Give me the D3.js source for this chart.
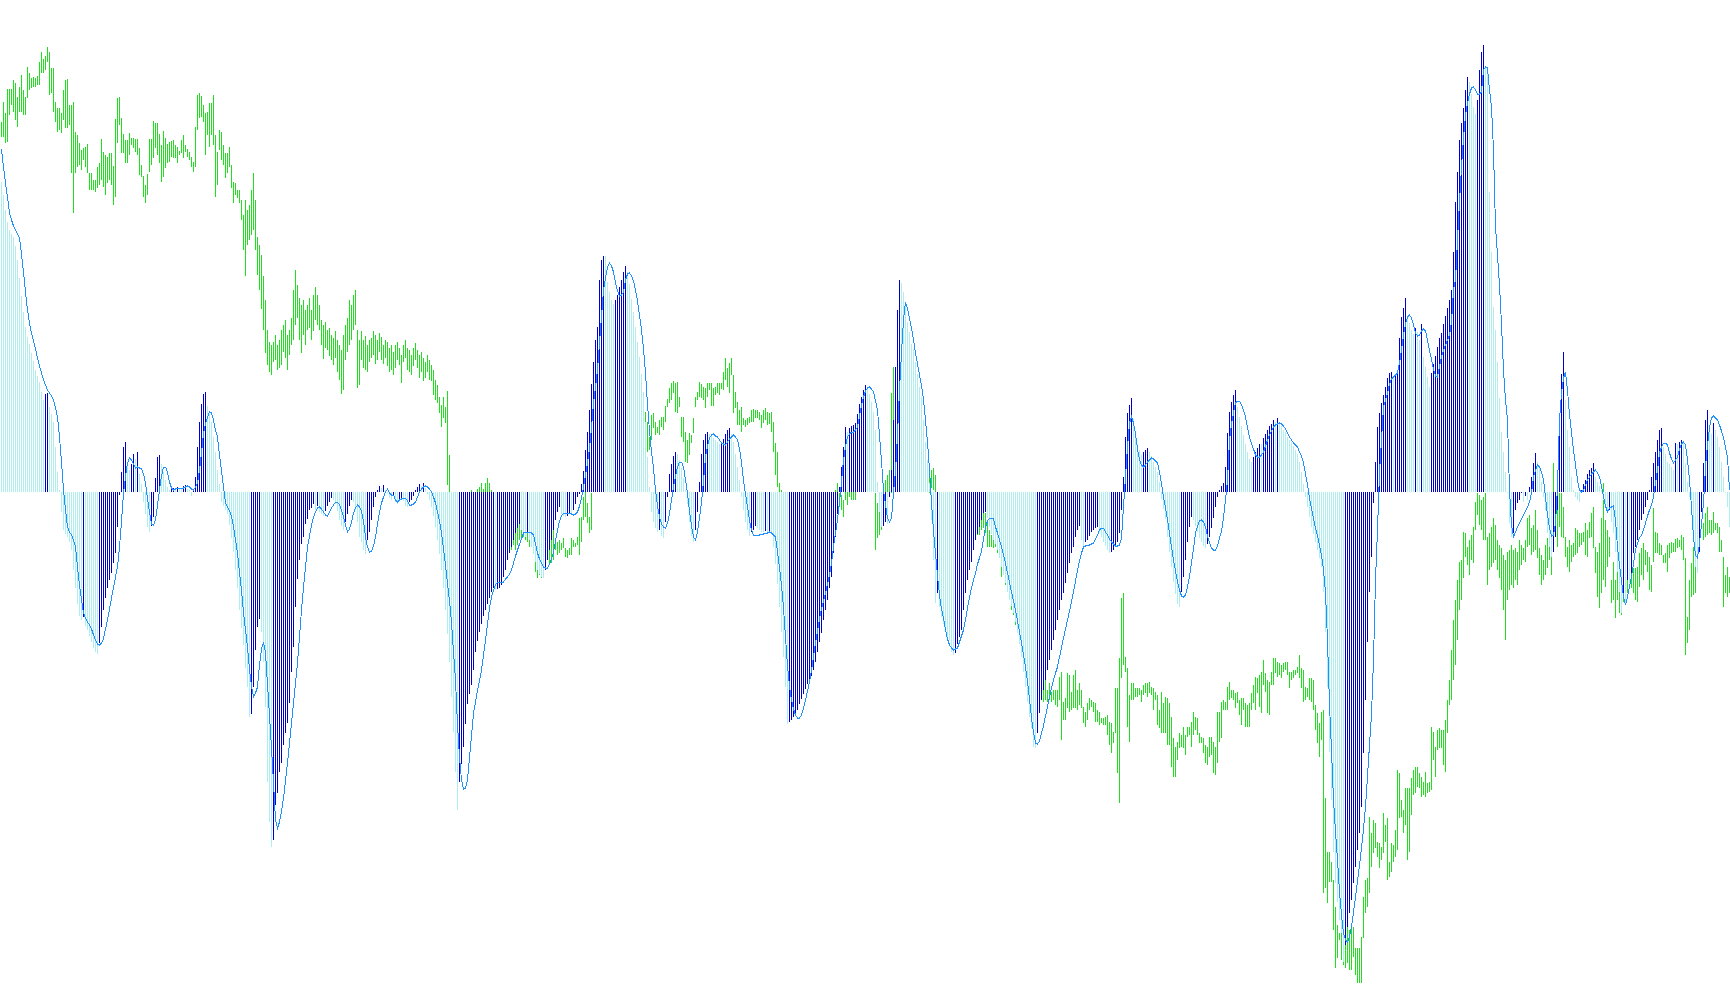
<!DOCTYPE html>
<html><head><meta charset="utf-8">
<script src="https://cdn.jsdelivr.net/npm/d3@7"></script>
<style>html,body{margin:0;padding:0;background:#fff;overflow:hidden}</style>
</head><body>
<svg id="chart" width="1730" height="1005"></svg>
<script>
// price bar highs (index points)
const high = [
878,898,887,911,911,911,920,917,903,913, 925,910,903,933,927,922,923,922,924,938,
948,941,944,953,948,932,932,898,892,892, 887,910,920,921,895,895,898,868,865,857,
850,852,853,856,827,827,820,820,833,837, 861,848,845,843,847,847,834,881,902,903,
882,866,860,860,867,862,862,861,861,852, 835,824,815,826,861,861,879,877,877,866,
855,869,862,856,858,859,860,855,853,849, 860,865,855,851,848,843,838,873,905,907,
904,895,887,888,897,897,905,865,848,870, 868,855,847,847,853,835,818,817,810,810,
800,785,800,790,795,810,827,800,763,755, 745,724,700,670,658,655,658,665,655,660,
670,675,680,665,670,682,710,730,715,702, 695,700,690,695,702,690,705,713,705,695,
680,675,678,670,672,665,662,669,660,655, 650,665,675,682,700,695,705,710,670,660,
669,660,664,655,660,662,669,665,660,667, 663,655,660,658,652,655,648,655,658,652,
645,655,660,652,650,645,652,657,650,645, 648,642,638,645,640,635,630,620,615,603,
595,603,593,609,545,508,505,500,495,490, 500,505,508,506,507,510,507,505,511,513,
517,511,517,522,517,510,505,500,502,497, 495,498,492,490,495,488,490,485,482,478,
472,470,472,470,470,468,458,458,445,440, 437,442,450,455,450,470,472,460,458,460,
457,462,452,450,452,462,460,457,463,482, 483,503,508,497,483,507,530,540,545,550,
560,555,570,575,570,580,585,580,590,595, 600,590,595,600,605,600,595,590,585,590,
595,590,588,578,563,585,587,578,573,580, 583,583,594,601,612,617,619,617,618,603,
583,583,568,560,567,565,582,603,608,618, 616,613,612,617,617,617,612,613,617,617,
617,628,642,632,637,642,625,608,598,590, 593,582,580,582,583,590,591,590,590,588,
585,590,592,588,587,588,578,557,548,517, 510,505,500,502,495,498,490,492,485,490,
495,488,492,485,490,495,490,495,500,495, 490,495,492,488,485,482,487,510,517,507,
505,500,513,510,508,508,517,508,550,545, 540,545,550,542,540,548,545,507,497,505,
485,510,520,525,530,607,633,600,580,570, 560,555,550,555,550,545,550,545,540,538,
535,532,530,532,527,530,532,525,508,505, 500,502,495,497,490,492,485,488,490,485,
490,495,492,488,485,490,492,488,490,488, 490,487,487,478,470,465,462,460,455,453,
447,440,430,420,415,410,405,400,395,390, 380,375,370,360,355,350,345,340,335,330,
325,322,320,310,317,308,310,310,310,323, 328,298,302,327,325,308,325,330,310,317,
310,293,288,297,302,300,298,297,290,288, 282,282,283,285,278,277,268,312,312,342,
402,407,343,332,305,317,317,312,312,312, 310,315,317,317,318,313,312,308,305,290,
308,297,303,302,297,283,262,253,258,267, 265,273,265,273,273,278,288,283,282,267,
263,262,255,253,263,263,258,253,288,288, 298,300,298,313,318,310,310,307,308,300,
302,302,297,295,297,307,315,323,322,325, 328,340,327,320,318,328,342,342,338,337,
335,337,338,338,328,328,330,330,333,345, 332,330,313,312,322,322,320,295,287,277,
288,290,202,148,148,138,120,93,75,67, 80,70,65,75,70,73,73,52,52,52,
63,103,120,122,183,167,180,177,158,157, 153,187,175,182,138,157,155,170,230,227,
200,190,212,212,212,222,230,233,233,227, 223,218,228,217,218,273,268,253,270,272,
270,270,280,300,320,350,380,400,420,438, 440,468,467,453,460,465,473,498,507,505,
500,503,507,463,467,473,482,475,460,455, 452,445,440,448,450,455,450,452,448,460,
455,452,460,482,485,472,475,490,470,452, 445,440,455,462,470,460,537,507,492,507,
507,493,463,453,460,455,457,472,470,467, 467,468,477,470,478,487,493,453,448,457,
482,517,480,470,463,420,438,420,435,420, 407,413,435,430,430,433,432,432,433,447,
452,457,450,448,443,435,492,468,467,457, 455,445,447,455,457,458,457,461,462,460,
465,463,442,383,420,437,453,475,487,473, 507,477,487,493,480,480,488,477,477,473,
460,443,425,433,423
];
// price bar lows (index points)
const low = [
863,863,857,858,885,895,888,880,873,888, 888,885,885,902,910,912,913,913,915,915,
927,927,930,938,905,907,888,878,868,870, 867,880,872,872,875,827,787,827,833,835,
830,840,833,827,810,810,810,808,812,815, 820,813,805,817,820,815,795,803,857,875,
847,847,837,837,845,855,852,848,845,825, 823,803,797,805,828,835,842,852,845,837,
818,823,832,837,838,843,842,842,837,845, 847,842,848,843,840,833,828,833,870,882,
883,878,845,865,853,865,855,803,815,850, 840,835,822,827,833,812,797,805,802,797,
780,750,724,755,760,765,770,750,725,710, 691,670,647,635,628,625,638,640,630,632,
635,648,642,630,645,655,660,675,682,660, 647,665,655,670,672,660,669,680,675,670,
655,641,652,650,644,640,635,642,628,620, 606,610,640,648,655,660,670,675,612,615,
640,632,630,628,638,642,645,636,640,648, 640,636,642,634,628,630,625,632,640,635,
617,638,642,630,628,625,634,640,632,622, 628,619,622,628,620,619,605,600,597,587,
573,582,577,515,508,475,470,460,455,452, 460,470,475,480,485,485,490,488,485,480,
485,490,485,480,485,475,470,465,462,460, 455,460,455,452,455,450,455,450,455,460,
463,463,460,458,453,455,448,428,422,425, 422,427,440,440,437,437,440,450,445,447,
450,452,443,442,445,445,453,453,455,445, 458,480,483,477,467,470,510,512,515,520,
525,522,530,535,532,540,545,542,550,555, 560,552,555,560,565,555,550,545,540,550,
550,548,548,548,550,560,572,565,567,565, 573,570,578,593,597,600,607,588,587,593,
563,558,538,537,545,557,567,593,600,603, 602,600,592,603,610,594,594,605,607,605,
611,610,620,613,607,625,587,592,575,575, 568,575,573,575,577,578,578,582,582,580,
572,577,580,575,576,568,548,525,513,500, 480,475,470,465,460,455,452,460,448,455,
460,452,455,450,455,462,458,465,468,462, 460,465,460,455,460,462,473,493,500,493,
490,483,500,495,503,500,500,500,510,512, 510,512,515,510,510,514,510,450,462,465,
470,475,490,500,507,507,527,530,520,515, 515,512,510,515,512,510,515,512,510,510,
510,510,510,518,507,512,510,508,480,475, 470,465,460,455,450,452,445,450,452,448,
455,460,455,452,450,455,460,460,465,465, 470,472,467,453,453,453,452,453,447,445,
423,430,415,413,400,390,385,375,370,360, 350,345,338,330,320,315,310,305,300,295,
300,298,300,298,300,298,300,295,293,300, 260,280,280,292,288,290,292,292,290,295,
292,277,273,280,290,293,288,278,278,275, 277,275,275,265,255,247,257,267,227,197,
322,335,328,273,258,300,300,303,303,305, 298,305,307,303,307,305,290,300,275,272,
267,267,267,255,255,233,223,223,240,252, 253,252,245,263,265,253,265,270,265,257,
257,247,237,235,243,245,227,225,237,258, 262,290,290,290,300,302,300,292,297,285,
275,290,273,273,273,290,297,290,307,293, 287,315,308,287,285,315,315,327,323,325,
322,328,330,325,312,320,322,325,327,322, 312,298,300,303,300,298,290,270,257,243,
260,107,112,97,118,118,70,32,42,60, 40,35,32,37,30,30,43,25,17,17,
17,62,87,93,107,133,147,152,143,132, 140,147,158,120,123,128,138,143,150,182,
183,167,175,140,148,185,205,207,213,212, 203,205,203,207,208,210,240,223,250,252,
252,235,228,267,295,300,320,335,360,390, 400,422,443,435,425,440,437,470,485,475,
470,460,460,415,430,433,437,440,430,422, 410,390,360,400,410,415,412,420,415,430,
435,440,438,453,455,445,448,450,442,425, 415,420,425,432,440,425,467,467,453,473,
463,462,443,433,428,438,443,445,447,453, 455,458,445,443,462,463,452,427,403,392,
407,420,413,433,443,397,400,382,400,387, 385,398,403,407,415,412,407,400,398,413,
425,420,435,428,410,408,438,447,447,445, 445,437,437,428,442,447,448,448,452,453,
450,440,345,357,370,403,405,407,453,463, 490,460,463,465,467,465,467,470,467,448,
448,393,407,403,407
];
// oscillator histogram
const hist = [
310,297,282,270,262,258,255,246,232,214, 196,180,165,155,148,139,131,122,116,110,
100,92,98,99,85,78,70,45,20,2, -20,-38,-42,-45,-50,-58,-78,-96,-112,-124,
-128,-125,-134,-138,-144,-150,-156,-160,-162,-151, -135,-118,-106,-96,-88,-81,-71,-61,-35,-3,
20,45,50,30,22,28,38,33,40,18, 8,-10,-22,-35,-40,-34,-25,14,35,37,
28,20,12,5,2,3,4,3,5,4, 4,6,7,3,2,-4,2,15,45,70,
88,98,100,86,78,70,55,40,22,8, -10,-14,-18,-22,-33,-46,-60,-78,-96,-118,
-136,-153,-176,-195,-225,-222,-195,-158,-135,-127, -140,-170,-215,-290,-330,-355,-348,-313,-301,-280,
-271,-253,-241,-231,-211,-180,-155,-115,-87,-68, -52,-45,-32,-27,-18,-16,-12,-18,-14,-20,
-22,-24,-19,-14,-10,-6,-8,-12,-19,-28, -34,-38,-30,-22,-14,-8,-10,-18,-30,-45,
-50,-58,-62,-48,-40,-28,-15,-5,2,6, 4,7,2,-2,-6,-8,-4,-10,-12,-8,
-6,-9,-14,-15,-10,-8,-4,2,5,8, 6,9,4,-2,-8,-15,-24,-35,-48,-62,
-78,-96,-118,-142,-170,-205,-240,-280,-318,-290, -272,-255,-232,-212,-202,-193,-178,-160,-149,-140,
-132,-124,-118,-112,-106,-100,-96,-98,-97,-96, -93,-85,-78,-68,-61,-55,-48,-41,-36,-32,
-38,-42,-45,-40,-48,-55,-62,-70,-78,-82, -85,-86,-78,-68,-58,-48,-38,-28,-20,-15,
-22,-24,-25,-24,-22,-23,-18,-12,-5,-2, 8,21,42,60,82,108,130,152,165,212,
232,236,236,210,200,192,188,192,197,205, 212,220,226,220,208,193,180,165,150,135,
118,100,70,35,5,-20,-30,-36,-40,-38, -44,-46,-30,-5,18,28,36,40,38,32,
24,14,2,-12,-30,-44,-50,-38,-20,10, 38,52,58,60,58,56,54,52,50,48,
50,53,58,62,64,58,50,38,25,12, -5,-18,-30,-38,-44,-40,-38,-34,-36,-38,
-40,-40,-39,-41,-40,-42,-55,-72,-92,-115, -140,-165,-195,-232,-230,-228,-225,-222,-218,-212,
-207,-202,-197,-192,-188,-184,-178,-170,-160,-150, -141,-128,-118,-108,-96,-85,-61,-45,-22,5,
25,45,65,60,64,66,67,69,78,88, 95,102,107,105,98,90,80,62,10,-20,
-35,-34,-30,-32,-5,22,72,125,182,212, 209,200,188,170,160,148,143,130,118,105,
95,72,50,32,9,-28,-68,-111,-101,-115, -125,-132,-138,-145,-148,-160,-163,-161,-152,-145,
-138,-118,-101,-88,-78,-70,-58,-48,-42,-35, -28,-21,-20,-26,-35,-42,-48,-52,-58,-66,
-75,-83,-91,-100,-108,-114,-121,-130,-141,-152, -165,-180,-195,-210,-225,-236,-255,-256,-241,-221,
-208,-198,-188,-178,-168,-158,-148,-138,-128,-118, -108,-101,-91,-81,-71,-61,-55,-45,-38,-34,
-48,-55,-50,-48,-44,-40,-38,-36,-35,-40, -45,-50,-54,-58,-61,-60,-58,-55,-50,-41,
-18,15,55,79,87,94,73,60,48,42, 37,40,42,44,40,36,30,25,20,10,
-7,-17,-27,-45,-60,-75,-90,-102,-112,-115, -100,-85,-68,-50,-35,-25,-28,-34,-40,-46,
-50,-54,-56,-52,-45,-36,-26,-15,-5,2, 6,9,25,59,80,90,97,102,85,75,
66,57,48,40,33,30,35,40,44,48, 48,54,58,62,66,68,72,70,74,68,
66,62,60,55,52,50,46,42,38,30, 20,8,-5,-15,-25,-35,-42,-50,-58,-66,
-75,-100,-140,-195,-260,-308,-360,-391,-410,-428, -441,-470,-453,-435,-421,-408,-391,-375,-358,-341,
-315,-261,-208,-150,-100,-65,-11,30,65,79, 89,97,105,114,119,120,116,118,122,154,
175,184,194,175,169,162,158,164,160,152, 168,135,125,115,105,119,128,136,145,154,
159,168,176,184,192,202,240,290,320,352, 369,384,402,415,410,398,385,378,392,422,
440,447,424,419,300,240,185,162,130,94, 60,40,20,0,-31,-45,-41,-18,-11,-8,
-1,-10,-4,-8,5,15,29,39,30,25, 10,-5,-18,-41,-55,-65,-60,-45,-18,72,
118,140,92,62,45,15,2,-5,-8,-10, 2,8,12,18,22,24,29,15,10,6,
2,-8,-14,-21,-18,-30,-41,-60,-80,-100, -121,-105,-112,-88,-95,-85,-61,-55,-48,-38,
-28,-22,-15,-8,2,15,29,40,52,62, 64,45,38,30,28,25,22,49,48,50,
52,50,29,10,-5,-21,-38,-75,-81,-60, -20,29,72,82,65,58,69,62,55,45,
30,15,0,-15,-35
];
// smoothed signal line
const signal = [
343,325,309,295,279,272,266,262,258,254, 238,220,200,182,169,159,151,143,134,126,
119,112,107,102,99,96,92,84,75,55, 30,2,-18,-35,-40,-43,-48,-55,-75,-93,
-108,-121,-126,-130,-133,-137,-143,-148,-152,-153, -151,-147,-137,-128,-117,-106,-96,-85,-75,-55,
-30,-1,15,29,34,32,28,24,25,24, 23,18,9,-7,-20,-32,-33,-28,-13,2,
16,25,25,20,10,4,2,3,4,4, 4,4,5,6,5,3,2,5,9,22,
39,59,68,75,80,79,72,62,55,37, 21,5,-11,-15,-19,-24,-35,-48,-61,-81,
-98,-121,-138,-155,-178,-194,-205,-201,-195,-173, -157,-150,-161,-192,-224,-256,-290,-328,-336,-330,
-319,-306,-289,-271,-251,-231,-211,-191,-171,-145, -118,-95,-75,-55,-44,-33,-25,-20,-16,-15,
-17,-20,-23,-24,-20,-16,-13,-10,-10,-13, -18,-25,-33,-40,-37,-30,-21,-16,-13,-15,
-19,-29,-45,-55,-60,-59,-54,-45,-32,-20, -11,-5,0,3,-1,-3,-3,-8,-10,-8,
-7,-6,-6,-9,-13,-13,-12,-10,-5,0, 3,5,6,5,3,0,-5,-11,-20,-29,
-41,-57,-73,-91,-109,-130,-160,-188,-233,-265, -288,-297,-296,-288,-266,-244,-221,-210,-198,-189,
-178,-163,-148,-132,-116,-105,-98,-93,-90,-90, -90,-90,-87,-85,-82,-78,-71,-64,-58,-52,
-47,-41,-40,-40,-40,-41,-43,-52,-61,-67, -71,-75,-76,-76,-72,-67,-60,-49,-38,-29,
-24,-21,-21,-21,-21,-22,-23,-22,-20,-14, -6,5,17,29,44,64,89,105,122,149,
175,202,214,225,229,226,220,209,201,196, 197,200,212,218,219,216,211,202,191,177,
162,143,119,88,61,40,24,2,-14,-25, -32,-35,-36,-31,-22,-8,5,15,25,30,
30,25,12,-1,-19,-34,-45,-48,-40,-26, -10,11,35,46,54,57,58,56,55,52,
49,48,47,50,53,55,57,55,52,43, 30,12,-2,-15,-28,-38,-43,-43,-43,-43,
-42,-42,-41,-41,-40,-41,-43,-45,-60,-76, -93,-116,-145,-174,-194,-208,-217,-223,-226,-226,
-223,-216,-208,-199,-190,-178,-165,-151,-139,-127, -117,-109,-101,-92,-83,-71,-55,-41,-28,-10,
10,32,45,55,58,60,60,62,65,76, 87,95,101,104,105,103,100,91,82,57,
31,2,-13,-26,-30,-26,-1,21,57,102, 139,172,190,183,174,164,152,139,128,117,
107,92,72,50,22,-11,-39,-61,-84,-103, -117,-126,-138,-147,-153,-156,-158,-157,-156,-150,
-144,-138,-128,-116,-105,-96,-88,-81,-72,-66, -59,-47,-35,-29,-26,-26,-27,-35,-41,-48,
-55,-63,-71,-81,-90,-100,-109,-118,-129,-140, -151,-163,-175,-190,-207,-226,-240,-251,-252,-249,
-241,-234,-224,-215,-205,-196,-188,-181,-175,-165, -156,-146,-137,-128,-119,-110,-100,-89,-78,-69,
-61,-55,-54,-53,-53,-52,-51,-47,-43,-38, -36,-36,-40,-43,-47,-50,-52,-54,-54,-53,
-46,-15,15,45,69,75,69,58,43,32, 27,25,27,30,32,34,33,31,29,20,
8,-5,-16,-28,-41,-55,-68,-79,-90,-98, -104,-105,-103,-95,-84,-71,-57,-41,-34,-29,
-28,-30,-35,-44,-51,-56,-58,-58,-54,-46, -39,-26,-8,12,52,68,79,89,91,91,
87,82,75,64,55,48,43,37,35,35, 37,40,46,52,57,61,65,67,68,69,
68,66,63,59,55,52,49,47,45,40, 36,29,18,7,-6,-16,-27,-36,-44,-53,
-63,-78,-101,-148,-213,-258,-308,-340,-368,-400, -423,-441,-448,-450,-445,-435,-420,-405,-389,-373,
-356,-337,-315,-284,-253,-223,-168,-88,-38,19, 52,85,92,99,108,113,115,117,119,129,
142,157,168,175,177,174,167,159,156,157, 161,163,161,152,141,133,123,116,115,126,
135,142,147,152,157,170,202,212,252,290, 325,354,377,389,398,404,405,402,398,398,
400,422,425,424,402,385,342,265,237,207, 168,122,92,72,2,-33,-45,-40,-35,-31,
-27,-23,-19,-15,-10,-1,15,22,27,25, 20,12,-5,-23,-36,-44,-43,-31,5,72,
99,114,120,102,77,60,42,27,12,2, 0,2,7,12,15,18,20,22,19,15,
6,-5,-14,-20,-16,-15,-14,-28,-55,-73, -89,-105,-113,-105,-95,-84,-72,-58,-51,-46,
-43,-38,-31,-24,-18,-13,-5,9,22,39, 45,49,49,47,39,33,29,32,35,43,
48,50,47,32,12,-15,-45,-63,-66,-51, -33,-11,25,47,64,74,76,74,72,67,
61,54,45,35,2
];

const W = 1730, H = 1005;
const n = Math.min(high.length, low.length, hist.length, signal.length);
const idx = d3.range(n);
const x = d3.scaleLinear().domain([0, 864]).range([1, 1729]);
const yPrice = d3.scaleLinear().domain([0, 1000]).range([1000, 0]);
const yOsc = d3.scaleLinear().domain([-500, 500]).range([992, -8]);
const svg = d3.select('#chart');
svg.append('rect').attr('width', W).attr('height', H).attr('fill', '#ffffff');

// price bars (high-low)
svg.append('g').attr('shape-rendering', 'crispEdges')
  .selectAll('rect').data(idx).join('rect')
  .attr('x', i => x(i)).attr('width', 1)
  .attr('y', i => yPrice(high[i]))
  .attr('height', i => Math.max(1, yPrice(low[i]) - yPrice(high[i])))
  .attr('fill', '#1fdf1f');

// histogram
const y0 = yOsc(0);
svg.append('g').attr('shape-rendering', 'crispEdges')
  .selectAll('rect').data(idx).join('rect')
  .attr('x', i => x(i)).attr('width', 1)
  .attr('y', i => hist[i] >= 0 ? yOsc(hist[i]) : y0)
  .attr('height', i => Math.max(1, Math.abs(yOsc(hist[i]) - y0)))
  .attr('fill', i => (i > 0 && hist[i] > hist[i - 1]) ? '#0000cd' : '#afeeee');

// signal line
const line = d3.line().x(i => x(i) + 0.5).y(i => yOsc(signal[i]));
svg.append('path').datum(idx)
  .attr('d', line)
  .attr('fill', 'none')
  .attr('stroke', '#1e90ff')
  .attr('stroke-width', 1)
  .attr('shape-rendering', 'crispEdges');
</script>
</body></html>
